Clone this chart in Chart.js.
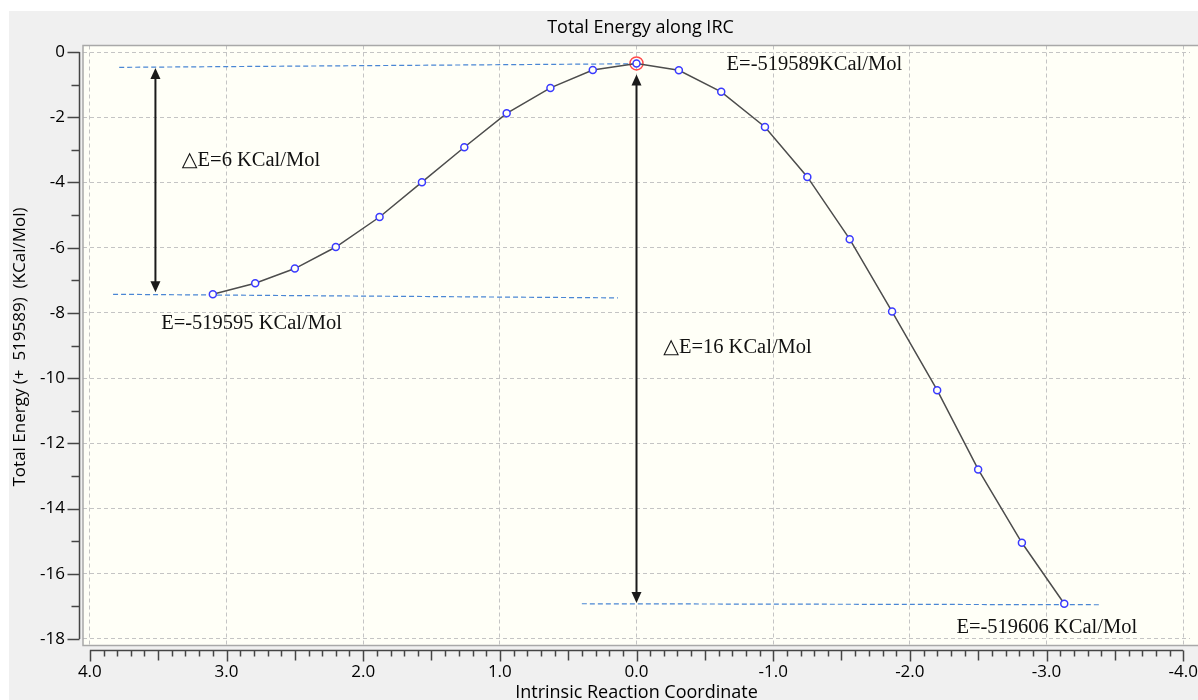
<!DOCTYPE html>
<html>
<head>
<meta charset="utf-8">
<script src="https://cdn.jsdelivr.net/npm/chart.js@4/dist/chart.umd.min.js"></script>
<style>
  html, body { margin: 0; padding: 0; background: #fff; }
  canvas { display: block; }
</style>
</head>
<body>
<canvas id="irc" width="1198" height="700"></canvas>
<script>
// IRC points
const coord = [3.10, 2.79, 2.50, 2.20, 1.88, 1.57, 1.26, 0.95, 0.63, 0.32, 0.00,
  -0.31, -0.62, -0.94, -1.25, -1.56, -1.87, -2.20, -2.50, -2.82, -3.13];
const energy = [-7.43, -7.09, -6.64, -5.98, -5.06, -3.99, -2.92, -1.88, -1.10, -0.55, -0.35,
  -0.56, -1.22, -2.30, -3.83, -5.74, -7.96, -10.37, -12.80, -15.05, -16.92];
const tsIndex = 10;

const xTicks = [4, 3, 2, 1, 0, -1, -2, -3, -4];
const yTicks = [0, -2, -4, -6, -8, -10, -12, -14, -16, -18];

// annotations in data units: [x1, y1, x2, y2]
const guideLines = [[3.785, -0.47, 0.0, -0.36], [3.83, -7.43, 0.136, -7.54], [0.40, -16.92, -3.39, -16.95]];
// [x, yTop, yBottom]
const arrows = [[3.52, -0.49, -7.37], [0.0, -0.69, -16.90]];
// [text, x, y]
const notes = [
  ['\u25B3E=6 KCal/Mol', 3.327, -3.48],
  ['E=-519589KCal/Mol', -0.659, -0.54],
  ['E=-519595 KCal/Mol', 3.478, -8.50],
  ['\u25B3E=16 KCal/Mol', -0.195, -9.24],
  ['E=-519606 KCal/Mol', -2.341, -17.83]
];

const sans = '"Open Sans", "Noto Sans", sans-serif';
const serif = '"Liberation Serif", "DejaVu Serif", serif';

const decor = {
  id: 'decor',
  beforeDraw(chart) {
    const { ctx, chartArea: a } = chart;
    ctx.save();
    ctx.fillStyle = '#ffffff';
    ctx.fillRect(0, 0, chart.width, chart.height);
    ctx.fillStyle = '#f0f0f0';
    ctx.fillRect(9, 11, chart.width - 9, chart.height - 11);
    ctx.fillStyle = '#fffff7';
    ctx.fillRect(a.left, a.top, chart.width - a.left, a.bottom - a.top);
    ctx.restore();
  },
  beforeDatasetsDraw(chart) {
    const { ctx } = chart;
    const sx = chart.scales.x, sy = chart.scales.y;
    ctx.save();
    ctx.strokeStyle = '#4a86d4';
    ctx.lineWidth = 1.2;
    ctx.setLineDash([5, 3]);
    guideLines.forEach(l => {
      ctx.beginPath();
      ctx.moveTo(sx.getPixelForValue(l[0]), sy.getPixelForValue(l[1]));
      ctx.lineTo(sx.getPixelForValue(l[2]), sy.getPixelForValue(l[3]));
      ctx.stroke();
    });
    ctx.setLineDash([]);
    ctx.strokeStyle = '#1a1a1a';
    ctx.fillStyle = '#1a1a1a';
    ctx.lineWidth = 2;
    arrows.forEach(a => {
      const x = sx.getPixelForValue(a[0]);
      const y1 = sy.getPixelForValue(a[1]);
      const y2 = sy.getPixelForValue(a[2]);
      ctx.beginPath();
      ctx.moveTo(x, y1 + 8);
      ctx.lineTo(x, y2 - 8);
      ctx.stroke();
      ctx.beginPath();
      ctx.moveTo(x, y1); ctx.lineTo(x - 5, y1 + 11); ctx.lineTo(x + 5, y1 + 11); ctx.closePath();
      ctx.fill();
      ctx.beginPath();
      ctx.moveTo(x, y2); ctx.lineTo(x - 5, y2 - 11); ctx.lineTo(x + 5, y2 - 11); ctx.closePath();
      ctx.fill();
    });
    ctx.restore();
  },
  afterDraw(chart) {
    const { ctx, chartArea: a } = chart;
    const sx = chart.scales.x, sy = chart.scales.y;
    ctx.save();
    // annotation texts
    ctx.fillStyle = '#111';
    ctx.font = '20.5px ' + serif;
    ctx.textBaseline = 'alphabetic';
    ctx.textAlign = 'left';
    notes.forEach(n => ctx.fillText(n[0], sx.getPixelForValue(n[1]), sy.getPixelForValue(n[2])));

    // plot frame (runs off the right edge like the original)
    ctx.strokeStyle = '#a8a8a8';
    ctx.lineWidth = 1.5;
    ctx.strokeRect(a.left, a.top, chart.width + 10 - a.left, a.bottom - a.top);

    // offset axes with their tick marks
    ctx.strokeStyle = '#454545';
    ctx.lineWidth = 1.5;
    const axisY = a.bottom + 5;
    ctx.beginPath();
    ctx.moveTo(sx.getPixelForValue(4), axisY);
    ctx.lineTo(sx.getPixelForValue(-4), axisY);
    for (let i = -40; i <= 40; i++) {
      const px = Math.round(sx.getPixelForValue(i / 10)) + 0.5;
      const len = i % 10 === 0 ? 11 : (i % 5 === 0 ? 10 : 6);
      ctx.moveTo(px, axisY);
      ctx.lineTo(px, axisY + len);
    }
    const axisX = a.left - 3.5;
    ctx.moveTo(axisX, sy.getPixelForValue(0));
    ctx.lineTo(axisX, sy.getPixelForValue(-18));
    for (let v = -18; v <= 0; v++) {
      const py = Math.round(sy.getPixelForValue(v)) + 0.5;
      const len = v % 2 === 0 ? 12 : 8;
      ctx.moveTo(axisX, py);
      ctx.lineTo(axisX - len, py);
    }
    ctx.stroke();

    // titles
    ctx.fillStyle = '#000';
    ctx.textAlign = 'center';
    ctx.textBaseline = 'middle';
    ctx.font = '18px ' + sans;
    ctx.fillText('Total Energy along IRC', (a.left + chart.width) / 2, 28);
    ctx.fillText('Intrinsic Reaction Coordinate', sx.getPixelForValue(0), 693);
    ctx.font = '17px ' + sans;
    ctx.translate(20, 347);
    ctx.rotate(-Math.PI / 2);
    ctx.fillText('Total Energy (+  519589)  (KCal/Mol)', 0, 0);
    ctx.restore();
  }
};

const noPad = s => { s.paddingLeft = 0; s.paddingRight = 0; s.paddingTop = 0; s.paddingBottom = 0; };

new Chart(document.getElementById('irc'), {
  type: 'scatter',
  data: {
    datasets: [
      {
        data: coord.map((x, i) => ({ x, y: energy[i] })),
        showLine: true,
        borderColor: '#4d4d4d',
        borderWidth: 1.5,
        tension: 0,
        pointRadius: 3.5,
        pointBorderWidth: 1.5,
        pointBorderColor: '#3a3aff',
        pointBackgroundColor: '#fffff7'
      },
      {
        data: [{ x: coord[tsIndex], y: energy[tsIndex] }],
        showLine: false,
        pointRadius: 6.5,
        pointBorderWidth: 1.5,
        pointBorderColor: '#ff4a4a',
        pointBackgroundColor: 'rgba(0,0,0,0)'
      }
    ]
  },
  options: {
    responsive: false,
    animation: false,
    devicePixelRatio: 1,
    layout: { padding: { top: 45.5, left: 0, right: 0, bottom: 0 } },
    plugins: { legend: { display: false }, tooltip: { enabled: false }, title: { display: false } },
    scales: {
      x: {
        type: 'linear',
        reverse: true,
        min: -4.05,
        max: 4.05,
        afterBuildTicks: s => { s.ticks = xTicks.map(v => ({ value: v })); },
        afterFit: s => { s.height = 54.5; noPad(s); },
        grid: { color: '#c4c4c4', lineWidth: 1, drawTicks: false },
        border: { display: false, dash: [4, 3] },
        ticks: { padding: 16, color: '#000', font: { family: sans, size: 17 }, callback: v => v.toFixed(1), maxRotation: 0 }
      },
      y: {
        min: -18.2,
        max: 0.2,
        afterBuildTicks: s => { s.ticks = yTicks.map(v => ({ value: v })); },
        afterFit: s => { s.width = 83; noPad(s); },
        grid: { color: '#c4c4c4', lineWidth: 1, drawTicks: false },
        border: { display: false, dash: [4, 3] },
        ticks: { padding: 18, color: '#000', font: { family: sans, size: 17 } }
      }
    }
  },
  plugins: [decor]
});
</script>
</body>
</html>
